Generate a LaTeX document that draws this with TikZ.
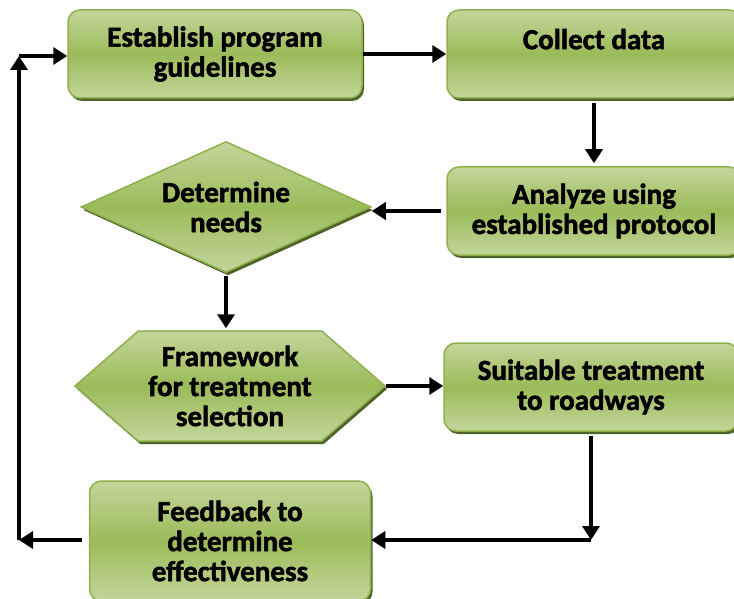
\documentclass[tikz,border=0pt]{standalone}
\usepackage{fontspec}
\setmainfont{Carlito}[BoldFeatures={FakeBold=1.8}]
\usetikzlibrary{shapes.geometric,shapes.symbols,arrows.meta,shadows,calc}
\definecolor{gl}{HTML}{C3D69B}
\definecolor{gm}{HTML}{9BBB59}
\definecolor{gb}{HTML}{8FB04E}
\definecolor{gs}{HTML}{4F6228}
\tikzset{
  box/.style={draw=gb, line width=1.5pt, top color=gl, bottom color=gl, middle color=gm,
    drop shadow={shadow xshift=2pt, shadow yshift=-3pt, fill=gs, opacity=1},
    align=center, font=\fontsize{29}{30}\selectfont\bfseries, inner sep=0pt},
  rbox/.style={box, rectangle, rounded corners=12pt, minimum width=294pt, minimum height=88pt},
  arr/.style={line width=4pt, -{Triangle[length=14pt,width=17pt]}},
}
\begin{document}
\begin{tikzpicture}[x=1pt,y=-1pt]
\useasboundingbox[fill=white] (0,0) rectangle (734,599);
\node[rbox] (est) at (215,54) {Establish program\\guidelines};
\node[rbox] (col) at (594,54) {Collect data\\\mbox{}};
\node[rbox] (ana) at (594,211) {Analyze using\\established protocol};
\node[box, diamond, aspect=2.2, minimum width=290pt, minimum height=131pt] (det) at (226,207) {Determine\\needs};
\node[box, signal, signal to=west and east, signal pointer angle=82, minimum width=310pt, minimum height=110pt] (fra) at (230,386) {Framework\\for treatment\\selection};
\node[rbox] (sui) at (591,387) {Suitable treatment\\to roadways};
\node[rbox, minimum width=281pt, minimum height=120pt] (fee) at (230,541) {Feedback to\\determine\\effectiveness};
\coordinate (c1) at (sui.south |- 0,540);
\coordinate (c2) at (19,540);
\coordinate (c3) at (19,56);
\draw[arr] (est.east) -- (col.west);
\draw[arr, shorten <=4pt, shorten >=3pt] (col.south) -- (ana.north);
\draw[arr, shorten <=5pt] (ana.west) -- (ana.west -| det.east);
\draw[arr, shorten <=3pt, shorten >=2pt] (det.south) -- (det.south |- fra.north);
\draw[arr] (fra.east) -- (fra.east -| sui.west);
\draw[arr, shorten <=4pt] (sui.south) -- (c1);
\draw[arr] (c1) -- (c1 -| fee.east);
\draw[arr, shorten <=7pt] (fee.west |- c2) -- (c2);
\draw[arr] (c2) -- (c3);
\draw[arr] (c3) -- (c3 -| est.west);
\end{tikzpicture}
\end{document}
